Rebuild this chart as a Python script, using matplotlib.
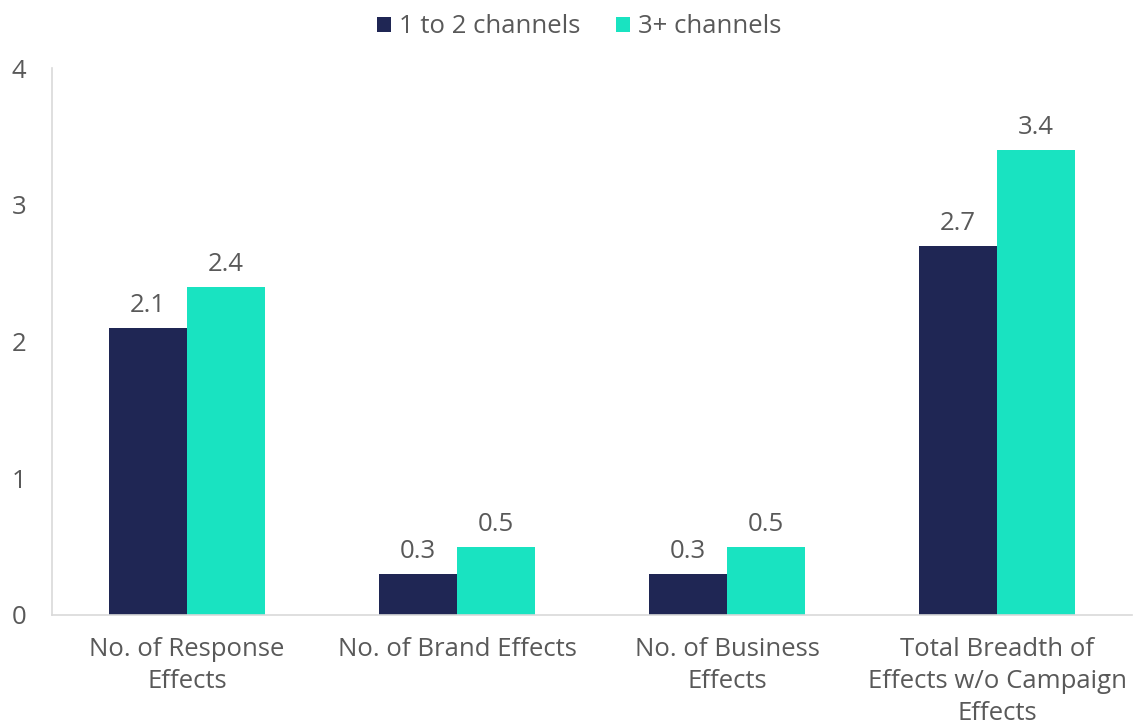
import numpy as np
import matplotlib.pyplot as plt

categories = ["No. of Response\nEffects", "No. of Brand Effects",
              "No. of Business\nEffects", "Total Breadth of\nEffects w/o Campaign\nEffects"]
low_channels = [2.1, 0.3, 0.3, 2.7]
high_channels = [2.4, 0.5, 0.5, 3.4]
series_names = ["1 to 2 channels", "3+ channels"]

navy = "#1F2654"
teal = "#19E3C1"
grey = "#595959"

plt.rcParams['font.family'] = ['Open Sans', 'DejaVu Sans']
fs = 18.5

fig = plt.figure(figsize=(11.36, 7.24), dpi=100)
ax = fig.add_axes([52/1136, 109/724, 1080/1136, 547/724])

x = np.arange(len(categories))
w = 0.29
b1 = ax.bar(x - w/2, low_channels, w, color=navy, label=series_names[0])
b2 = ax.bar(x + w/2, high_channels, w, color=teal, label=series_names[1])

for bars in (b1, b2):
    for r in bars:
        ax.text(r.get_x() + r.get_width()/2, r.get_height() + 0.07,
                f"{r.get_height():.1f}", ha="center", va="bottom",
                fontsize=fs, color=grey)

ax.set_xlim(-0.5, 3.5)
ax.set_ylim(0, 4)
ax.set_yticks([0, 1, 2, 3, 4])
ax.set_xticks(x)
ax.set_xticklabels(categories, fontsize=fs, color=grey, linespacing=1.36)
ax.tick_params(axis='y', labelsize=fs, labelcolor=grey, length=0, pad=29)
ax.tick_params(axis='x', length=0, pad=16)
for s in ("top", "right"):
    ax.spines[s].set_visible(False)
for s in ("left", "bottom"):
    ax.spines[s].set_color("#D9D9D9")
    ax.spines[s].set_linewidth(1.2)
for lbl in ax.get_yticklabels():
    lbl.set_horizontalalignment("left")

fig.legend(loc="upper center", bbox_to_anchor=(0.51, 1.012), ncol=2, frameon=False,
           fontsize=fs, labelcolor=grey, handlelength=0.55, handleheight=0.55,
           handletextpad=0.3, columnspacing=1.4)

fig.savefig("out.png", dpi=100)
